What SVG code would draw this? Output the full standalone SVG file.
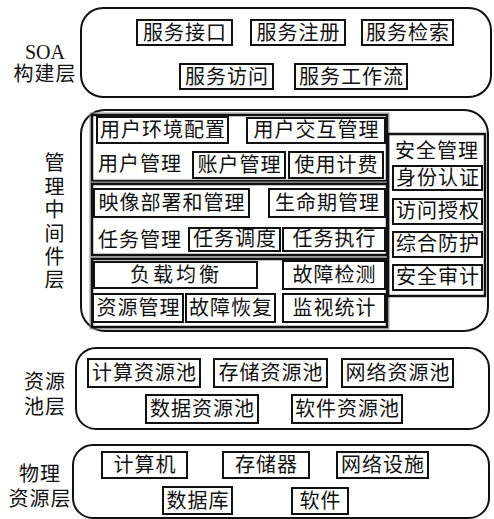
<svg xmlns="http://www.w3.org/2000/svg" width="494" height="519" viewBox="0 0 494 519">
<style>
text{font-family:"Liberation Serif","Noto Sans CJK SC",serif;font-size:20px;fill:#111;text-anchor:middle;letter-spacing:1px}
.layer{fill:none;stroke:#111;stroke-width:2}
.box{fill:#fff;stroke:#111;stroke-width:2}
.grp{fill:none;stroke:#111;stroke-width:2.5}
.grp2{fill:none;stroke:#999;stroke-width:1}
</style>
<rect width="494" height="519" fill="#fff"/>
<g id="soa-layer">
<rect class="layer" x="81" y="8" width="410" height="89" rx="22"/>
<text x="45" y="59" style="letter-spacing:0">SOA</text>
<text x="45" y="81">构建层</text>
</g>
<g id="n-fwjk"><rect class="box" x="137" y="20" width="95" height="25"/><text x="185" y="40">服务接口</text></g>
<g id="n-fwzc"><rect class="box" x="251" y="20" width="94" height="25"/><text x="298.5" y="40">服务注册</text></g>
<g id="n-fwjs"><rect class="box" x="362" y="20" width="91" height="25"/><text x="408" y="40">服务检索</text></g>
<g id="n-fwfw"><rect class="box" x="180" y="64" width="93" height="25"/><text x="227" y="84">服务访问</text></g>
<g id="n-fwgzl"><rect class="box" x="295" y="64" width="112" height="25"/><text x="351.5" y="84">服务工作流</text></g>

<g id="mid-layer">
<rect class="layer" x="81" y="110" width="407" height="221" rx="24"/>
<text x="55" y="170">管</text>
<text x="55" y="194">理</text>
<text x="55" y="217">中</text>
<text x="55" y="241">间</text>
<text x="55" y="264">件</text>
<text x="55" y="287">层</text>
</g>
<g id="user-group">
<rect class="grp2" x="90" y="113" width="299" height="70"/>
<rect class="grp" x="92" y="115" width="295" height="66"/>
<text x="140" y="171">用户管理</text>
</g>
<g id="n-yhhjpz"><rect class="box" x="97" y="117" width="131" height="26"/><text x="163" y="137">用户环境配置</text></g>
<g id="n-yhjhgl"><rect class="box" x="247" y="118" width="138" height="25"/><text x="316.5" y="137">用户交互管理</text></g>
<g id="n-zhgl"><rect class="box" x="193" y="152" width="92" height="26"/><text x="239.5" y="172">账户管理</text></g>
<g id="n-syjf"><rect class="box" x="289" y="152" width="94" height="26"/><text x="336.5" y="172">使用计费</text></g>

<g id="image-group">
<rect class="grp2" x="90" y="182" width="299" height="75"/>
<rect class="grp" x="92" y="184" width="295" height="71"/>
<text x="140" y="247">任务管理</text>
</g>
<g id="n-yxbs"><rect class="box" x="94" y="189" width="155" height="28"/><text x="172" y="210">映像部署和管理</text></g>
<g id="n-smqgl"><rect class="box" x="269" y="189" width="116" height="28"/><text x="327.5" y="210">生命期管理</text></g>
<g id="n-rwdd"><rect class="box" x="189" y="228" width="91" height="23"/><text x="235" y="246">任务调度</text></g>
<g id="n-rwzx"><rect class="box" x="283" y="228" width="102" height="23"/><text x="334.5" y="246">任务执行</text></g>

<g id="load-group">
<rect class="grp2" x="90" y="257" width="299" height="72"/>
<rect class="grp" x="92" y="259" width="295" height="68"/>
</g>
<g id="n-fzjh"><rect class="box" x="94" y="262" width="163" height="26"/><text x="176" y="282" style="letter-spacing:3px">负载均衡</text></g>
<g id="n-gzjc"><rect class="box" x="283" y="261" width="102" height="28"/><text x="334.5" y="282">故障检测</text></g>
<g id="n-zygl"><rect class="box" x="93" y="294" width="90" height="28"/><text x="138.5" y="315">资源管理</text></g>
<g id="n-gzhf"><rect class="box" x="186" y="294" width="89" height="28"/><text x="231" y="315">故障恢复</text></g>
<g id="n-jstj"><rect class="box" x="283" y="294" width="102" height="28"/><text x="334.5" y="315">监视统计</text></g>

<g id="sec-group">
<rect class="grp" x="388" y="134" width="97" height="162"/>
<text x="437" y="158">安全管理</text>
</g>
<g id="n-sfrz"><rect class="box" x="393" y="166" width="89" height="24"/><text x="438" y="185">身份认证</text></g>
<g id="n-fwsq"><rect class="box" x="393" y="199" width="89" height="25"/><text x="438" y="218">访问授权</text></g>
<g id="n-zhfh"><rect class="box" x="393" y="232" width="89" height="25"/><text x="438" y="251">综合防护</text></g>
<g id="n-aqsj"><rect class="box" x="393" y="265" width="89" height="25"/><text x="438" y="284">安全审计</text></g>

<g id="pool-layer">
<rect class="layer" x="76" y="348" width="413" height="81" rx="20"/>
<text x="45" y="389">资源</text>
<text x="45" y="414">池层</text>
</g>
<g id="n-jszyc"><rect class="box" x="88" y="359" width="112" height="28"/><text x="144.5" y="380">计算资源池</text></g>
<g id="n-cczyc"><rect class="box" x="214" y="359" width="113" height="28"/><text x="271" y="380">存储资源池</text></g>
<g id="n-wlzyc"><rect class="box" x="342" y="359" width="111" height="28"/><text x="398" y="380">网络资源池</text></g>
<g id="n-sjzyc"><rect class="box" x="146" y="395" width="112" height="28"/><text x="202.5" y="416">数据资源池</text></g>
<g id="n-rjzyc"><rect class="box" x="292" y="395" width="110" height="28"/><text x="347.5" y="416">软件资源池</text></g>

<g id="phys-layer">
<rect class="layer" x="73" y="445" width="416" height="73" rx="20"/>
<text x="40" y="481">物理</text>
<text x="40" y="506">资源层</text>
</g>
<g id="n-jsj"><rect class="box" x="102" y="452" width="85" height="26"/><text x="145" y="472">计算机</text></g>
<g id="n-ccq"><rect class="box" x="223" y="452" width="86" height="26"/><text x="266.5" y="472">存储器</text></g>
<g id="n-wlss"><rect class="box" x="337" y="452" width="91" height="26"/><text x="383" y="472">网络设施</text></g>
<g id="n-sjk"><rect class="box" x="163" y="487" width="69" height="27"/><text x="198" y="508">数据库</text></g>
<g id="n-rj"><rect class="box" x="292" y="488" width="56" height="26"/><text x="320.5" y="508">软件</text></g>
<g id="connectors"></g>
</svg>
